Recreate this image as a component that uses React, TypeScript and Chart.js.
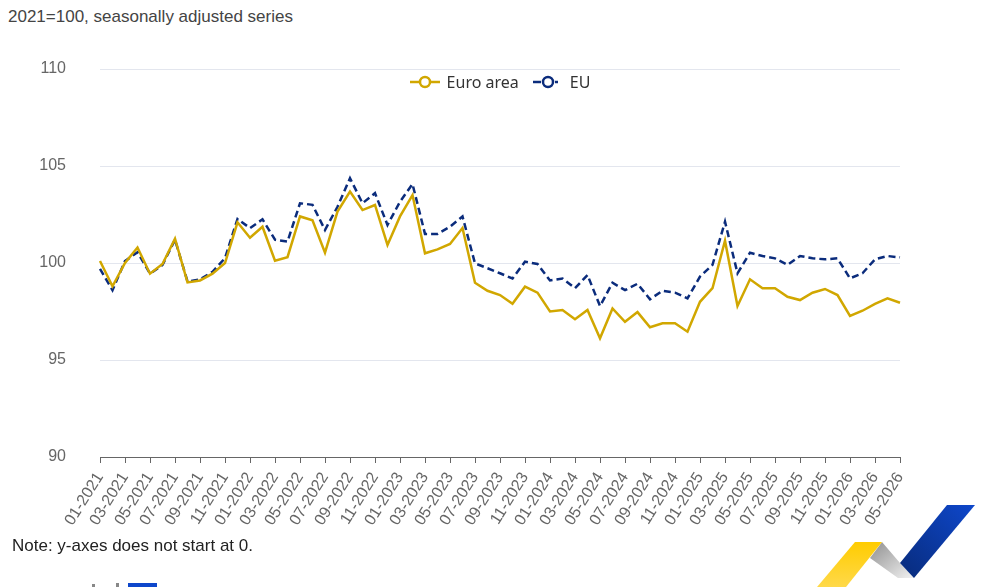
import React, { useEffect, useRef } from "react";
import { Chart, registerables } from "chart.js";

Chart.register(...registerables);

const months: string[] = [
  "01-2021", "02-2021", "03-2021", "04-2021", "05-2021", "06-2021", "07-2021", "08-2021", "09-2021", "10-2021", "11-2021", "12-2021",
  "01-2022", "02-2022", "03-2022", "04-2022", "05-2022", "06-2022", "07-2022", "08-2022", "09-2022", "10-2022", "11-2022", "12-2022",
  "01-2023", "02-2023", "03-2023", "04-2023", "05-2023", "06-2023", "07-2023", "08-2023", "09-2023", "10-2023", "11-2023", "12-2023",
  "01-2024", "02-2024", "03-2024", "04-2024", "05-2024", "06-2024", "07-2024", "08-2024", "09-2024", "10-2024", "11-2024", "12-2024",
  "01-2025", "02-2025", "03-2025", "04-2025", "05-2025", "06-2025", "07-2025", "08-2025", "09-2025", "10-2025", "11-2025", "12-2025",
  "01-2026", "02-2026", "03-2026", "04-2026", "05-2026",
];

const euroArea: number[] = [
  100.1, 98.8, 100.0, 100.8, 99.45, 99.95, 101.25, 99.0, 99.1, 99.45, 100.0, 102.1,
  101.3, 101.87, 100.12, 100.3, 102.4, 102.2, 100.53, 102.65, 103.68, 102.73, 102.99, 100.93,
  102.4, 103.5, 100.5, 100.7, 100.98, 101.8, 98.98, 98.57, 98.35, 97.9, 98.78, 98.47,
  97.5, 97.58, 97.1, 97.58, 96.12, 97.66, 96.97, 97.47, 96.69, 96.89, 96.89, 96.46,
  98.0, 98.7, 101.15, 97.78, 99.16, 98.7, 98.7, 98.26, 98.09, 98.47, 98.66, 98.35,
  97.27, 97.54, 97.89, 98.18, 97.95,
];

const eu: number[] = [
  99.7, 98.6, 100.1, 100.55, 99.45, 99.9, 101.2, 99.05, 99.15, 99.55, 100.25, 102.27,
  101.8, 102.25, 101.2, 101.1, 103.08, 103.0, 101.7, 102.9, 104.37, 103.08, 103.6, 101.96,
  103.16, 104.07, 101.5, 101.5, 101.87, 102.4, 99.98, 99.73, 99.47, 99.2, 100.07, 99.95,
  99.1, 99.2, 98.7, 99.38, 97.78, 98.98, 98.6, 98.93, 98.13, 98.57, 98.47, 98.18,
  99.3, 99.9, 102.13, 99.47, 100.53, 100.36, 100.24, 99.9, 100.36, 100.24, 100.19, 100.24,
  99.21, 99.47, 100.19, 100.36, 100.29,
];

const yTicks: number[] = [90, 95, 100, 105, 110];
const seriesNames: string[] = ["Euro area", "EU"];

const GOLD = "#D1A700";
const NAVY = "#0B2C7C";

function LegendIcon({ color, dashed }: { color: string; dashed: boolean }) {
  return (
    <svg width={30} height={14} style={{ display: "block" }}>
      {dashed ? (
        <>
          <line x1={0} y1={7} x2={8} y2={7} stroke={color} strokeWidth={2.5} />
          <line x1={22} y1={7} x2={25} y2={7} stroke={color} strokeWidth={2.5} />
        </>
      ) : (
        <line x1={0} y1={7} x2={30} y2={7} stroke={color} strokeWidth={2.5} />
      )}
      <circle cx={15} cy={7} r={5} fill="#ffffff" stroke={color} strokeWidth={2.5} />
    </svg>
  );
}

export default function App() {
  const ref = useRef<HTMLCanvasElement | null>(null);

  useEffect(() => {
    if (!ref.current) return;
    const chart = new Chart(ref.current, {
      type: "line",
      data: {
        labels: months,
        datasets: [
          {
            label: seriesNames[0],
            data: euroArea,
            borderColor: GOLD,
            backgroundColor: GOLD,
            borderWidth: 2.5,
            pointRadius: 0,
            tension: 0,
          },
          {
            label: seriesNames[1],
            data: eu,
            borderColor: NAVY,
            backgroundColor: NAVY,
            borderWidth: 2.5,
            borderDash: [7, 4],
            pointRadius: 0,
            tension: 0,
          },
        ],
      },
      options: {
        animation: false,
        responsive: false,
        layout: { padding: { top: 69, left: 0, right: 100, bottom: 0 } },
        plugins: {
          tooltip: { enabled: false },
          legend: { display: false },
        },
        scales: {
          x: {
            type: "category",
            offset: false,
            afterFit: (scale: any) => {
              scale.height = 83;
            },
            border: { display: true, color: "#666666", width: 1 },
            grid: {
              display: true,
              drawOnChartArea: false,
              drawTicks: true,
              tickLength: 6,
              color: (ctx: any) => (ctx.index % 2 === 0 ? "#666666" : "rgba(0,0,0,0)"),
            },
            ticks: {
              autoSkip: false,
              maxRotation: 58,
              minRotation: 58,
              padding: 6,
              color: "#666666",
              font: { family: "'Liberation Sans', Arial, sans-serif", size: 16 },
              callback: (_v: any, i: number) => (i % 2 === 0 ? months[i] : ""),
            },
          },
          y: {
            min: yTicks[0],
            max: yTicks[yTicks.length - 1],
            afterFit: (scale: any) => {
              scale.width = 100;
            },
            afterBuildTicks: (scale: any) => {
              scale.ticks = yTicks.map((v) => ({ value: v }));
            },
            border: { display: false },
            grid: { color: "#e3e6ee", lineWidth: 1, drawTicks: false },
            ticks: {
              padding: 34,
              color: "#666666",
              font: { family: "'Liberation Sans', Arial, sans-serif", size: 16 },
            },
          },
        },
      },
    });
    return () => chart.destroy();
  }, []);

  return (
    <div
      style={{
        position: "absolute",
        left: 0,
        top: 0,
        width: 1000,
        height: 587,
        overflow: "hidden",
        background: "#ffffff",
        fontFamily: "'Liberation Sans', Arial, sans-serif",
      }}
    >
      <div
        style={{
          position: "absolute",
          left: 8,
          top: 6,
          fontSize: 17,
          lineHeight: "22px",
          color: "#444444",
          whiteSpace: "nowrap",
        }}
      >
        2021=100, seasonally adjusted series
      </div>
      <canvas ref={ref} width={1000} height={540} style={{ position: "absolute", left: 0, top: 0 }} />
      <div
        style={{
          position: "absolute",
          left: 0,
          top: 71,
          width: 1000,
          height: 22,
          display: "flex",
          justifyContent: "center",
          alignItems: "center",
          fontFamily: "'Noto Sans', 'Open Sans', sans-serif",
          fontSize: 16,
          color: "#333333",
          whiteSpace: "nowrap",
        }}
      >
        <LegendIcon color={GOLD} dashed={false} />
        <span style={{ marginLeft: 7, marginRight: 14 }}>{seriesNames[0]}</span>
        <LegendIcon color={NAVY} dashed={true} />
        <span style={{ marginLeft: 7 }}>{seriesNames[1]}</span>
      </div>
      <div
        style={{
          position: "absolute",
          left: 12,
          top: 535,
          fontSize: 17,
          lineHeight: "22px",
          color: "#222222",
          whiteSpace: "nowrap",
        }}
      >
        Note: y-axes does not start at 0.
      </div>
      <svg width={1000} height={587} style={{ position: "absolute", left: 0, top: 0, pointerEvents: "none" }}>
        <defs>
          <linearGradient id="gy" x1="0" y1="0" x2="0" y2="1">
            <stop offset="0" stopColor="#FFCC00" />
            <stop offset="1" stopColor="#FFD94A" />
          </linearGradient>
          <linearGradient id="gg" x1="0" y1="0" x2="1" y2="1">
            <stop offset="0" stopColor="#8f8f8f" />
            <stop offset="1" stopColor="#f2f2f2" />
          </linearGradient>
          <linearGradient id="gb" x1="1" y1="0" x2="0" y2="1">
            <stop offset="0" stopColor="#0E47CB" />
            <stop offset="1" stopColor="#082B7A" />
          </linearGradient>
        </defs>
        <polygon points="882,542 870,558 898,578 914,578 900,563" fill="url(#gg)" />
        <polygon points="855,542 882,542 846,587 817,587" fill="url(#gy)" />
        <polygon points="947,505 975,505 914,578 900,563" fill="url(#gb)" />
        <rect x={128} y={583} width={29} height={4} fill="#0E47CB" />
        <rect x={92} y={584} width={3} height={3} fill="#888888" />
        <rect x={116} y={583} width={3} height={4} fill="#888888" />
      </svg>
    </div>
  );
}
